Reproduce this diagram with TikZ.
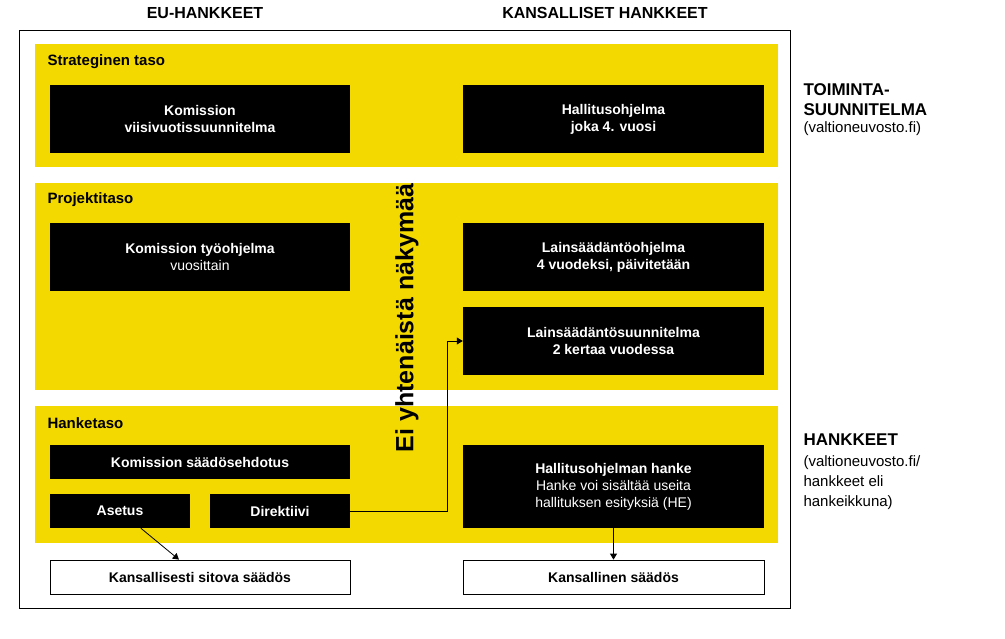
\documentclass[tikz,border=0pt]{standalone}
\usepackage{fontspec}
\setmainfont{Liberation Sans}
\usetikzlibrary{arrows.meta, positioning}
\definecolor{kelta}{HTML}{F3D900}
\begin{document}
\begin{tikzpicture}[
		x=1pt, y=-1pt,
		every node/.style={font=\fontsize{14}{16}\selectfont},
		band/.style={fill=kelta, draw=none},
		block/.style={
			rectangle,
			fill=black,
			text=white,
			align=center,
			font=\fontsize{14}{17}\selectfont\bfseries
		},
		outblock/.style={
			rectangle,
			draw,
			thick,
			fill=white,
			align=center,
			font=\fontsize{14}{17}\selectfont\bfseries
		},
		level/.style={anchor=west, font=\fontsize{15}{17}\selectfont\bfseries},
		arrow/.style={
			-{Triangle[length=6pt,width=7pt]},
			thick
		}
		]
		\useasboundingbox (0,0) rectangle (1005,638);
		
		% Frame and headers
		\draw[thick] (19,30) rectangle (790,608);
		\node[font=\fontsize{16}{18}\selectfont\bfseries] (euh) at (205,13) {EU-HANKKEET};
		\node[font=\fontsize{16}{18}\selectfont\bfseries] (kah) at (605,13) {KANSALLISET HANKKEET};
		
		% Bands
		\fill[band] (35,44) rectangle (778,167);
		\fill[band] (35,183) rectangle (778,390);
		\fill[band] (35,406) rectangle (778,543);
		\node[level] (strat) at (44,62) {Strateginen taso};
		\node[level] (proj) at (44,200) {Projektitaso};
		\node[level] (hank) at (44,423) {Hanketaso};
		
		% Black boxes
		\node[block, minimum width=300pt, minimum height=68pt] (viisi) at (200,119) {Komission\\viisivuotissuunnitelma};
		\node[block, minimum width=301pt, minimum height=68pt] (hallo) at (613.5,119) {Hallitusohjelma\\joka 4. vuosi};
		\node[block, minimum width=300pt, minimum height=68pt] (tyo) at (200,257) {Komission työohjelma\\\mdseries vuosittain};
		\node[block, minimum width=301pt, minimum height=68pt] (lako) at (613.5,257) {Lainsäädäntöohjelma\\4 vuodeksi, päivitetään};
		\node[block, minimum width=301pt, minimum height=68pt] (laks) at (613.5,341) {Lainsäädäntösuunnitelma\\2 kertaa vuodessa};
		\node[block, minimum width=300pt, minimum height=34pt] (ehd) at (200,462) {Komission säädösehdotus};
		\node[block, minimum width=140pt, minimum height=34pt] (asetus) at (120,511) {Asetus};
		\node[block, minimum width=140pt, minimum height=34pt] (dir) at (280,511) {Direktiivi};
		\node[block, minimum width=301pt, minimum height=83pt] (hhanke) at (613.5,486.5) {Hallitusohjelman hanke\\\mdseries Hanke voi sisältää useita\\\mdseries hallituksen esityksiä (HE)};
		
		% White boxes
		\node[outblock, minimum width=300pt, minimum height=34pt] (sitova) at (200,577) {Kansallisesti sitova säädös};
		\node[outblock, minimum width=301pt, minimum height=34pt] (kans) at (613.5,577) {Kansallinen säädös};
		
		% Middle text
		\node[rotate=90, font=\fontsize{25}{28}\selectfont\bfseries] (ei) at (407,318) {Ei yhtenäistä näkymää};
		
		% Right notes
		\node[anchor=north west, align=left, font=\fontsize{17}{20}\selectfont\bfseries] (toim) at (800,80) {TOIMINTA-\\SUUNNITELMA};
		\node[anchor=north west, align=left, font=\fontsize{15}{20}\selectfont] (toimv) at (800,118) {(valtioneuvosto.fi)};
		\node[anchor=north west, align=left, font=\fontsize{17}{20}\selectfont\bfseries] (hkk) at (800,430) {HANKKEET};
		\node[anchor=north west, align=left, font=\fontsize{15}{20}\selectfont] (hkkv) at (800,452) {(valtioneuvosto.fi/\\hankkeet eli\\hankeikkuna)};
		
		% Arrows
		\draw[arrow] (asetus) -- (sitova);
		\draw[arrow] (hhanke) -- (kans);
		\draw[arrow] (dir.east) -- (447,511) |- (laks.west);
		
	\end{tikzpicture}
\end{document}
